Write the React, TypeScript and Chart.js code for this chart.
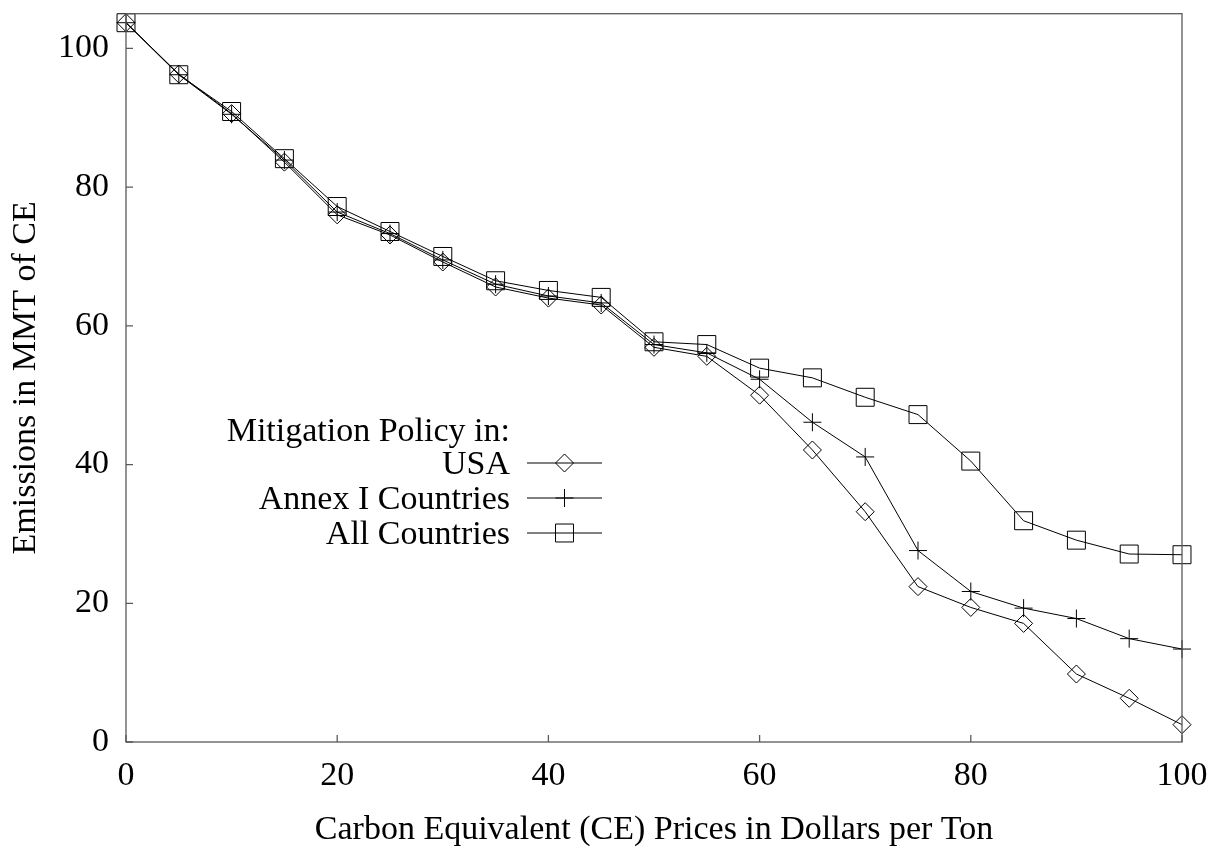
import React, { useEffect, useRef } from "react";
import { Chart, registerables } from "chart.js";
import { drawPoint } from "chart.js/helpers";

Chart.register(...registerables);

const prices = [0, 5, 10, 15, 20, 25, 30, 35, 40, 45, 50, 55, 60, 65, 70, 75, 80, 85, 90, 95, 100];
const usa = [103.7, 96.3, 90.6, 83.6, 76.0, 73.1, 69.2, 65.6, 64.0, 63.0, 56.9, 55.6, 50.0, 42.1, 33.2, 22.4, 19.4, 17.1, 9.8, 6.3, 2.5];
const annex = [103.7, 96.2, 90.5, 83.9, 76.4, 73.3, 69.5, 66.0, 64.3, 63.3, 57.3, 56.1, 52.3, 46.1, 41.1, 27.6, 21.7, 19.3, 17.8, 14.9, 13.4];
const allCountries = [103.7, 96.2, 90.9, 84.1, 77.2, 73.6, 70.0, 66.5, 65.1, 64.1, 57.7, 57.3, 53.9, 52.5, 49.7, 47.2, 40.5, 31.9, 29.1, 27.1, 27.0];
const xTicks = [0, 20, 40, 60, 80, 100];
const yTicks = [0, 20, 40, 60, 80, 100];
const legendTitle = "Mitigation Policy in:";
const seriesNames = ["USA", "Annex I Countries", "All Countries"];

const FONT = "'Liberation Serif', 'Times New Roman', serif";

const frameAndLegend = {
  id: "frameAndLegend",
  afterDraw(chart: any) {
    const { ctx, chartArea } = chart;
    const xs = chart.scales.x;
    const ys = chart.scales.y;
    ctx.save();
    ctx.strokeStyle = "#5a5a5a";
    ctx.lineWidth = 1.3;
    ctx.strokeRect(chartArea.left, chartArea.top, chartArea.right - chartArea.left, chartArea.bottom - chartArea.top);
    ctx.beginPath();
    xTicks.forEach((v) => {
      const px = xs.getPixelForValue(v);
      ctx.moveTo(px, chartArea.bottom);
      ctx.lineTo(px, chartArea.bottom - 7);
    });
    yTicks.forEach((v) => {
      const py = ys.getPixelForValue(v);
      ctx.moveTo(chartArea.left, py);
      ctx.lineTo(chartArea.left + 7, py);
    });
    ctx.stroke();

    // legend (text right-aligned, sample on the right)
    const textRight = 510;
    const lineL = 527;
    const lineR = 602;
    const rowTop = 463;
    const rowGap = 35;
    ctx.font = `34px ${FONT}`;
    ctx.fillStyle = "#000";
    ctx.textAlign = "right";
    ctx.textBaseline = "middle";
    ctx.fillText(legendTitle, textRight, rowTop - 31);
    chart.data.datasets.forEach((ds: any, i: number) => {
      const y = rowTop + i * rowGap;
      ctx.fillText(ds.label, textRight, y + 2);
      ctx.strokeStyle = "#000";
      ctx.lineWidth = 1;
      ctx.beginPath();
      ctx.moveTo(lineL, y);
      ctx.lineTo(lineR, y);
      ctx.stroke();
      ctx.strokeStyle = "#000";
      ctx.fillStyle = "rgba(0,0,0,0)";
      ctx.lineWidth = 1;
      drawPoint(ctx, { pointStyle: ds.pointStyle, radius: ds.pointRadius, rotation: 0, borderWidth: 1 }, (lineL + lineR) / 2, y);
      ctx.fillStyle = "#000";
    });
    ctx.restore();
  },
};

export default function App() {
  const ref = useRef<HTMLCanvasElement>(null);
  useEffect(() => {
    if (!ref.current) return;
    const mk = (label: string, vals: number[], style: string, r: number) => ({
      label,
      data: prices.map((p, i) => ({ x: p, y: vals[i] })),
      borderColor: "#000",
      backgroundColor: "rgba(0,0,0,0)",
      borderWidth: 1,
      pointStyle: style,
      pointRadius: r,
      pointBorderWidth: 1,
      pointBorderColor: "#000",
      pointBackgroundColor: "rgba(0,0,0,0)",
      tension: 0,
      clip: false,
    });
    const chart = new Chart(ref.current, {
      type: "line",
      data: {
        datasets: [
          mk(seriesNames[0], usa, "rectRot", 9),
          mk(seriesNames[1], annex, "cross", 9),
          mk(seriesNames[2], allCountries, "rect", 12.7),
        ],
      },
      options: {
        animation: false,
        responsive: false,
        devicePixelRatio: 1,
        layout: { padding: { top: 10, right: 32, left: 0, bottom: 0 } },
        plugins: { legend: { display: false }, tooltip: { enabled: false } },
        scales: {
          x: {
            type: "linear",
            min: 0,
            max: 100,
            border: { display: false },
            grid: { display: false, drawTicks: false },
            ticks: { stepSize: 20, padding: 17.5, color: "#000", font: { family: FONT, size: 34, lineHeight: 1 }, maxRotation: 0 },
            title: {
              display: true,
              text: "Carbon Equivalent (CE) Prices in Dollars per Ton",
              color: "#000",
              font: { family: FONT, size: 34, lineHeight: 1 },
              padding: { top: 0, bottom: 2.5 },
            },
            afterFit: (s: any) => {
              s.height = 108;
              s.paddingLeft = 0;
              s.paddingRight = 0;
              s.paddingTop = 0;
              s.paddingBottom = 0;
            },
          },
          y: {
            type: "linear",
            min: 0,
            max: 105,
            border: { display: false },
            grid: { display: false, drawTicks: false },
            ticks: { stepSize: 20, padding: 17, color: "#000", font: { family: FONT, size: 34, lineHeight: 1 } },
            afterBuildTicks: (s: any) => {
              s.ticks = yTicks.map((v) => ({ value: v }));
            },
            title: {
              display: true,
              text: "Emissions in MMT of CE",
              color: "#000",
              font: { family: FONT, size: 34, lineHeight: 1 },
              padding: { top: 9, bottom: 0 },
            },
            afterFit: (s: any) => {
              s.width = 126;
              s.paddingLeft = 0;
              s.paddingRight = 0;
              s.paddingTop = 0;
              s.paddingBottom = 0;
            },
          },
        },
      },
      plugins: [frameAndLegend],
    } as any);
    return () => chart.destroy();
  }, []);
  return (
    <div style={{ position: "absolute", left: 0, top: 0, width: 1214, height: 850, background: "#fff" }}>
      <canvas ref={ref} width={1214} height={850} style={{ display: "block", width: 1214, height: 850 }} />
    </div>
  );
}
